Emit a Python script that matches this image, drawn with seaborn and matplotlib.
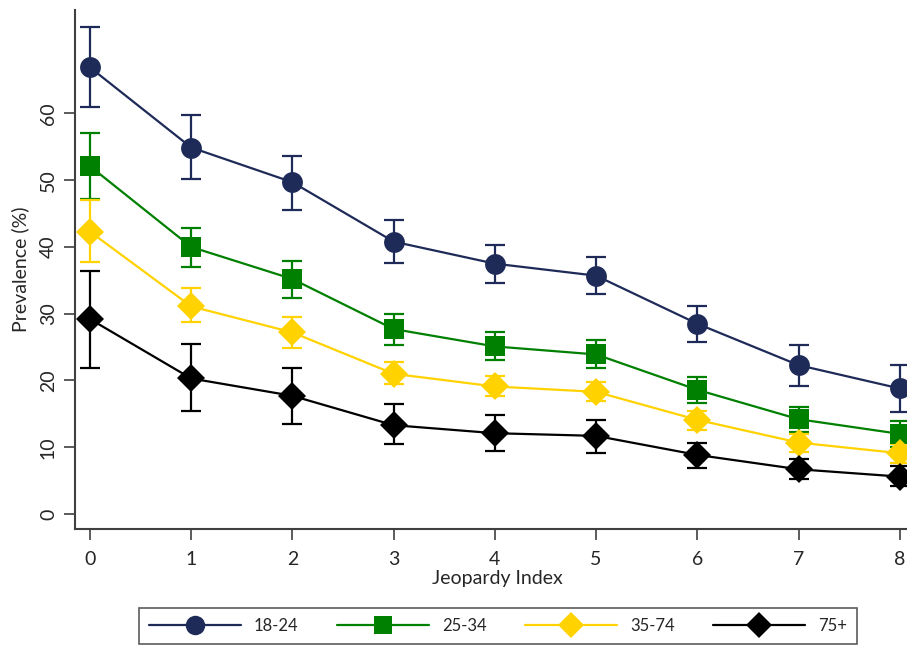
import matplotlib
matplotlib.use('Agg')
import matplotlib.pyplot as plt
import seaborn as sns
import pandas as pd
from matplotlib.lines import Line2D

# Jeopardy index on the x axis
jeopardy = [0, 1, 2, 3, 4, 5, 6, 7, 8]

# prevalence (%) per age group, with lower / upper CI bounds
age_18_24 = [66.9, 54.9, 49.7, 40.8, 37.5, 35.7, 28.5, 22.3, 18.8]
age_18_24_lo = [60.9, 50.2, 45.6, 37.6, 34.6, 33.0, 25.7, 19.2, 15.3]
age_18_24_hi = [72.9, 59.7, 53.7, 44.1, 40.3, 38.5, 31.2, 25.3, 22.3]

age_25_34 = [52.1, 40.0, 35.2, 27.7, 25.1, 23.9, 18.6, 14.2, 12.0]
age_25_34_lo = [47.2, 37.0, 32.4, 25.3, 23.0, 21.9, 16.6, 12.3, 10.0]
age_25_34_hi = [57.0, 42.9, 37.9, 30.0, 27.2, 26.0, 20.5, 16.1, 14.0]

age_35_74 = [42.3, 31.1, 27.2, 21.0, 19.1, 18.3, 14.1, 10.7, 9.1]
age_35_74_lo = [37.8, 28.7, 24.9, 19.4, 17.6, 16.9, 12.6, 9.3, 7.7]
age_35_74_hi = [47.0, 33.8, 29.5, 22.8, 20.6, 19.7, 15.4, 12.0, 10.5]

age_75 = [29.2, 20.3, 17.7, 13.3, 12.1, 11.7, 8.85, 6.7, 5.6]
age_75_lo = [21.9, 15.4, 13.5, 10.5, 9.4, 9.2, 6.9, 5.2, 4.2]
age_75_hi = [36.4, 25.5, 21.9, 16.5, 14.8, 14.1, 10.7, 8.2, 7.2]

groups = ['18-24', '25-34', '35-74', '75+']
colors = {'18-24': '#1e2b58', '25-34': '#008000', '35-74': '#ffd200', '75+': '#000000'}
markers = {'18-24': 'o', '25-34': 's', '35-74': 'D', '75+': 'D'}
msizes = {'18-24': 15, '25-34': 14, '35-74': 14, '75+': 14}

series = {
    '18-24': (age_18_24, age_18_24_lo, age_18_24_hi),
    '25-34': (age_25_34, age_25_34_lo, age_25_34_hi),
    '35-74': (age_35_74, age_35_74_lo, age_35_74_hi),
    '75+': (age_75, age_75_lo, age_75_hi),
}

rows = []
for g in groups:
    for x, v in zip(jeopardy, series[g][0]):
        rows.append({'Jeopardy Index': x, 'Prevalence': v, 'Age': g})
df = pd.DataFrame(rows)

sns.set_style('ticks')
plt.rcParams['font.family'] = ['Lato', 'DejaVu Sans']

fig = plt.figure(figsize=(9.07, 6.48), dpi=100)
ax = fig.add_axes([75 / 907, 119 / 648, 845 / 907, 519 / 648])

for g in groups:
    vals, lo, hi = series[g]
    yerr = [[v - l for v, l in zip(vals, lo)], [h - v for v, h in zip(vals, hi)]]
    ax.errorbar(jeopardy, vals, yerr=yerr, fmt='none', ecolor=colors[g],
                elinewidth=1.6, capsize=7, capthick=1.6, zorder=2)
    sns.lineplot(data=df[df['Age'] == g], x='Jeopardy Index', y='Prevalence',
                 color=colors[g], marker=markers[g], markersize=msizes[g],
                 markeredgewidth=0, linewidth=1.6, ax=ax, zorder=3,
                 legend=False, errorbar=None)

ax.set_xlim(-0.148, 8.2)
ax.set_ylim(-2.25, 75.5)
ax.set_xticks(jeopardy)
ax.set_yticks([0, 10, 20, 30, 40, 50, 60])
ax.tick_params(axis='y', labelrotation=90, length=8, width=1.2, labelsize=14,
               color='#404040', pad=5)
ax.tick_params(axis='x', length=8, width=1.2, labelsize=14, color='#404040', pad=8)
for lab in ax.get_yticklabels():
    lab.set_va('center')
ax.set_xlabel('Jeopardy Index', fontsize=14, labelpad=1)
ax.set_ylabel('Prevalence (%)', fontsize=14, labelpad=8)
for side in ['top', 'right']:
    ax.spines[side].set_visible(False)
for side in ['left', 'bottom']:
    ax.spines[side].set_color('#404040')
    ax.spines[side].set_linewidth(1.5)

handles = [Line2D([], [], color=colors[g], marker=markers[g], markersize=msizes[g] - 1,
                  markeredgewidth=0, linewidth=1.6) for g in groups]
leg = fig.legend(handles, groups, loc='upper center', bbox_to_anchor=(0.549, 0.062),
                 ncol=4, frameon=True, fancybox=False, fontsize=12, handlelength=5.5,
                 columnspacing=2.3, handletextpad=0.8, borderpad=0.6, borderaxespad=0)
leg.get_frame().set_edgecolor('#333333')
leg.get_frame().set_linewidth(1.2)

fig.savefig('out.png', dpi=100)
